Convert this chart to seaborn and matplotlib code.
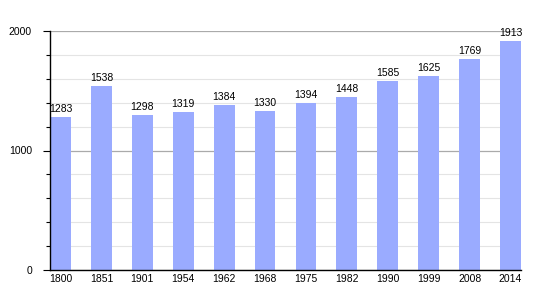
import matplotlib
matplotlib.use("Agg")
import matplotlib.pyplot as plt
import seaborn as sns
import pandas as pd
from matplotlib.ticker import MultipleLocator

years = ["1800", "1851", "1901", "1954", "1962", "1968", "1975", "1982", "1990", "1999", "2008", "2014"]
population = [1283, 1538, 1298, 1319, 1384, 1330, 1394, 1448, 1585, 1625, 1769, 1913]

df = pd.DataFrame({"year": years, "pop": population})

sns.set_style("white")
plt.rcParams["font.family"] = ["Liberation Sans", "DejaVu Sans"]
plt.rcParams["text.color"] = "black"
plt.rcParams["xtick.color"] = "black"
plt.rcParams["ytick.color"] = "black"

fig = plt.figure(figsize=(5.5, 3), dpi=100)
ax = fig.add_axes([50/550, 30/300, 471/550, 239/300])

sns.barplot(data=df, x="year", y="pop", color="#9aabff", saturation=1, width=0.51,
            linewidth=0, ax=ax, zorder=2)

ax.set_ylim(0, 2000)
ax.set_xlim(-0.257, 11.257)
ax.yaxis.set_major_locator(MultipleLocator(1000))
ax.yaxis.set_minor_locator(MultipleLocator(200))
ax.grid(which="major", axis="y", color="#aaaaaa", linewidth=0.9, zorder=0)
ax.grid(which="minor", axis="y", color="#e4e4e4", linewidth=0.8, zorder=0)
ax.set_axisbelow(True)

for s in ["top", "right"]:
    ax.spines[s].set_visible(False)
for s in ["left", "bottom"]:
    ax.spines[s].set_color("black")
    ax.spines[s].set_linewidth(1.0)

ax.tick_params(axis="y", which="major", length=5, width=0.8, color="black", labelcolor="black",
               labelsize=7.5, pad=8, direction="out", left=True)
ax.tick_params(axis="y", which="minor", length=3, width=0.8, color="black", direction="out", left=True)
ax.tick_params(axis="x", length=0, labelsize=7.5, pad=3, labelcolor="black")
ax.set_xlabel("")
ax.set_ylabel("")

for i, v in enumerate(population):
    ax.text(i, v + 25, str(v), ha="center", va="bottom", fontsize=7.5, color="black", clip_on=False)

fig.savefig("out.png", dpi=100)
